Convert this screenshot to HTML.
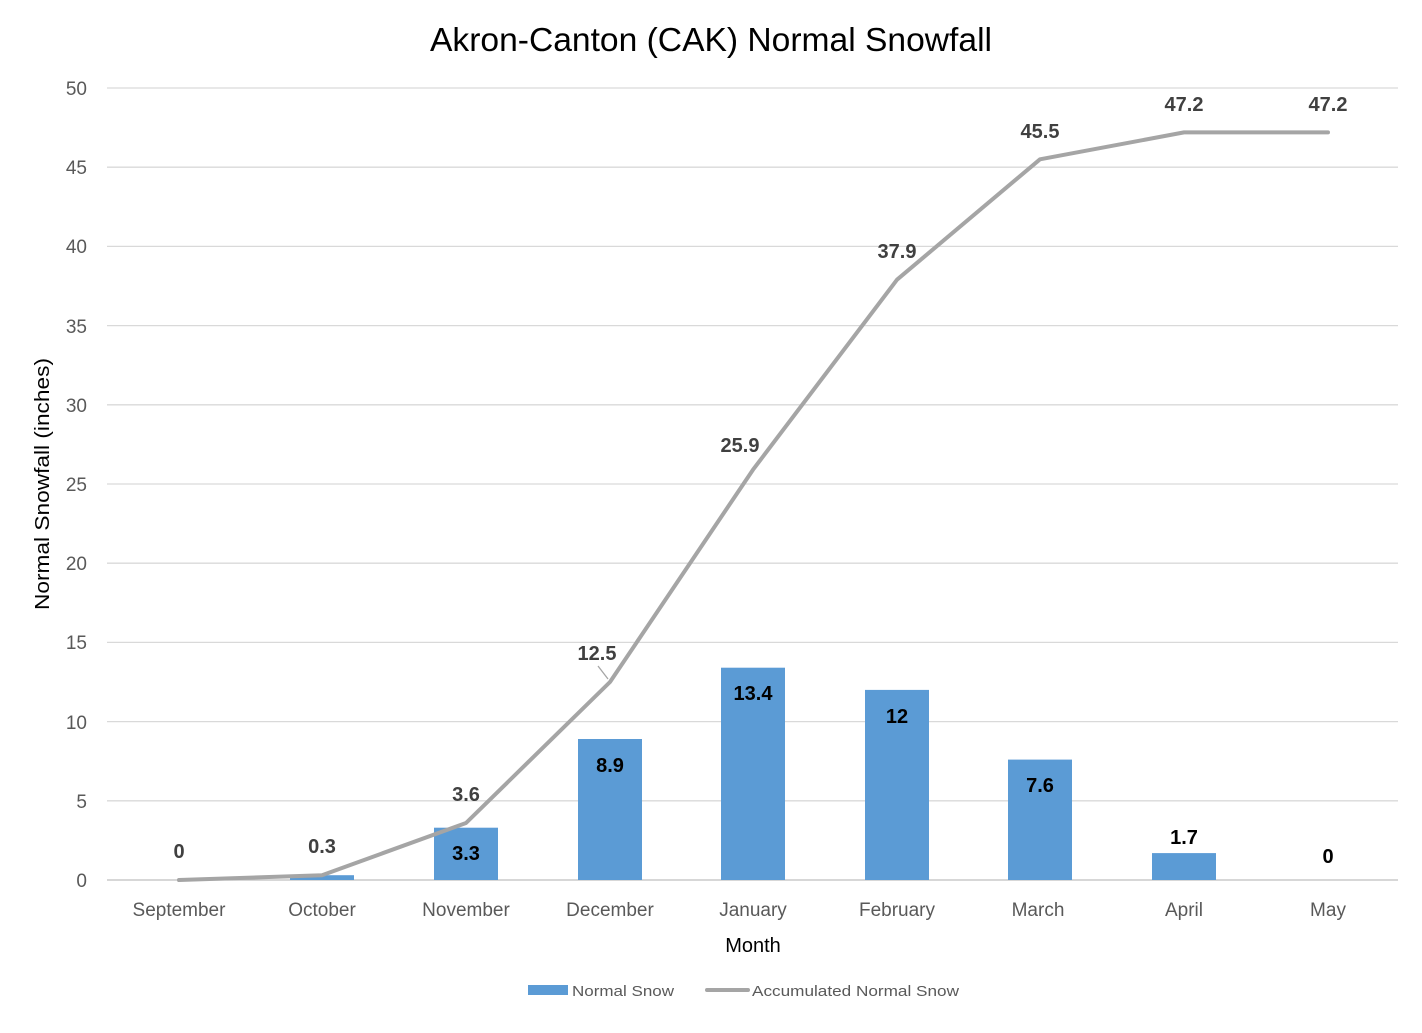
<!DOCTYPE html>
<html><head><meta charset="utf-8"><style>
html,body{margin:0;padding:0;background:#fff;}
svg{display:block;font-family:"Liberation Sans",sans-serif;}
.g{stroke:#d9d9d9;stroke-width:1.3}
.yt{fill:#595959;font-size:19px;text-anchor:end}
.xt{fill:#595959;font-size:19px;text-anchor:middle}
.ll{fill:#404040;font-size:20px;font-weight:bold;text-anchor:middle}
.bl{fill:#000;font-size:20px;font-weight:bold;text-anchor:middle}
</style></head><body>
<svg width="1422" height="1033" viewBox="0 0 1422 1033">
<rect width="1422" height="1033" fill="#fff"/>
<text x="430" y="51" font-size="33" fill="#000" textLength="562" lengthAdjust="spacingAndGlyphs">Akron-Canton (CAK) Normal Snowfall</text>
<g>
<line class="g" x1="107" x2="1398" y1="88" y2="88"/>
<line class="g" x1="107" x2="1398" y1="167.2" y2="167.2"/>
<line class="g" x1="107" x2="1398" y1="246.4" y2="246.4"/>
<line class="g" x1="107" x2="1398" y1="325.6" y2="325.6"/>
<line class="g" x1="107" x2="1398" y1="404.8" y2="404.8"/>
<line class="g" x1="107" x2="1398" y1="484" y2="484"/>
<line class="g" x1="107" x2="1398" y1="563.2" y2="563.2"/>
<line class="g" x1="107" x2="1398" y1="642.4" y2="642.4"/>
<line class="g" x1="107" x2="1398" y1="721.6" y2="721.6"/>
<line class="g" x1="107" x2="1398" y1="800.8" y2="800.8"/>
<line x1="107" x2="1398" y1="880" y2="880" stroke="#bfbfbf" stroke-width="1.3"/>
</g>
<g>
<text class="yt" x="87" y="95">50</text>
<text class="yt" x="87" y="174">45</text>
<text class="yt" x="87" y="253">40</text>
<text class="yt" x="87" y="333">35</text>
<text class="yt" x="87" y="412">30</text>
<text class="yt" x="87" y="491">25</text>
<text class="yt" x="87" y="570">20</text>
<text class="yt" x="87" y="649">15</text>
<text class="yt" x="87" y="729">10</text>
<text class="yt" x="87" y="808">5</text>
<text class="yt" x="87" y="887">0</text>
</g>
<text transform="translate(49,610) rotate(-90)" font-size="20" fill="#000" textLength="252" lengthAdjust="spacingAndGlyphs">Normal Snowfall (inches)</text>
<g fill="#5b9bd5">
<rect x="290" y="875.2" width="64" height="4.8"/>
<rect x="434" y="827.7" width="64" height="52.3"/>
<rect x="578" y="739" width="64" height="141"/>
<rect x="721" y="667.7" width="64" height="212.3"/>
<rect x="865" y="689.9" width="64" height="190.1"/>
<rect x="1008" y="759.6" width="64" height="120.4"/>
<rect x="1152" y="853.1" width="64" height="26.9"/>
</g>
<polyline fill="none" stroke="#a5a5a5" stroke-width="4" stroke-linejoin="round" stroke-linecap="round"
points="179,880 322,875.2 466,823 610,682 753,469.7 897,279.7 1040,159.3 1184,132.4 1328,132.4"/>
<line x1="598" y1="666" x2="608" y2="679" stroke="#a5a5a5" stroke-width="1.3"/>
<g>
<text class="ll" x="179" y="858">0</text>
<text class="ll" x="322" y="853">0.3</text>
<text class="ll" x="466" y="801">3.6</text>
<text class="ll" x="597" y="660">12.5</text>
<text class="ll" x="740" y="452">25.9</text>
<text class="ll" x="897" y="258">37.9</text>
<text class="ll" x="1040" y="138">45.5</text>
<text class="ll" x="1184" y="111">47.2</text>
<text class="ll" x="1328" y="111">47.2</text>
</g>
<g>
<text class="bl" x="466" y="860">3.3</text>
<text class="bl" x="610" y="772">8.9</text>
<text class="bl" x="753" y="700">13.4</text>
<text class="bl" x="897" y="723">12</text>
<text class="bl" x="1040" y="792">7.6</text>
<text class="bl" x="1184" y="844">1.7</text>
<text class="bl" x="1328" y="863">0</text>
</g>
<g>
<text class="xt" x="179" y="916">September</text>
<text class="xt" x="322" y="916">October</text>
<text class="xt" x="466" y="916">November</text>
<text class="xt" x="610" y="916">December</text>
<text class="xt" x="753" y="916">January</text>
<text class="xt" x="897" y="916">February</text>
<text class="xt" x="1038" y="916">March</text>
<text class="xt" x="1184" y="916">April</text>
<text class="xt" x="1328" y="916">May</text>
</g>
<text x="753" y="952" font-size="20" text-anchor="middle" fill="#000">Month</text>
<rect x="528" y="985" width="40" height="10" fill="#5b9bd5"/>
<text x="572" y="996" font-size="15" fill="#595959" textLength="102" lengthAdjust="spacingAndGlyphs">Normal Snow</text>
<line x1="707" y1="990" x2="748" y2="990" stroke="#a5a5a5" stroke-width="4" stroke-linecap="round"/>
<text x="752" y="996" font-size="15" fill="#595959" textLength="207" lengthAdjust="spacingAndGlyphs">Accumulated Normal Snow</text>
</svg>
</body></html>
